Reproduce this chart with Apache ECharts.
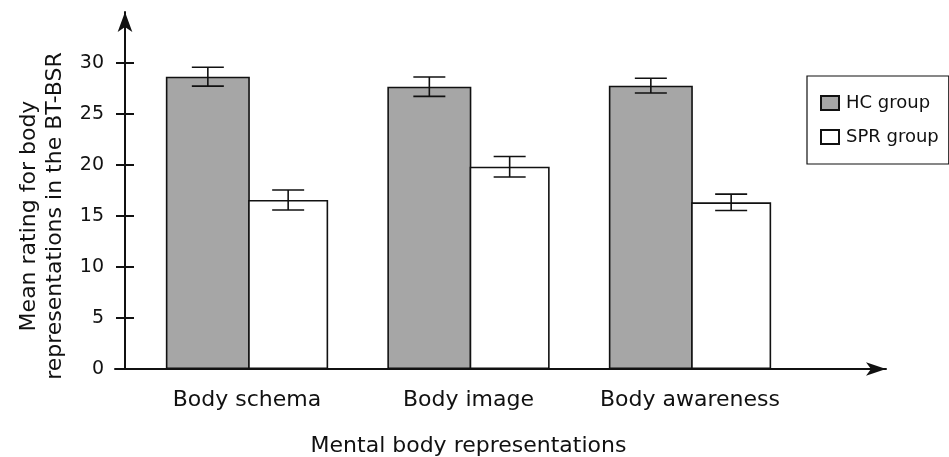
<!DOCTYPE html>
<html>
<head>
<meta charset="utf-8">
<script src="https://cdn.jsdelivr.net/npm/echarts@6/dist/echarts.min.js"></script>
<style>
html,body{margin:0;padding:0;background:#fff;}
#chart{width:949px;height:457px;}
</style>
</head>
<body>
<div id="chart"></div>
<script>
const categories = ['Body schema', 'Body image', 'Body awareness'];
const seriesNames = ['HC group', 'SPR group'];
const hcMeans = [28.66, 27.68, 27.78];
const hcErr = [0.93, 0.95, 0.72];
const sprMeans = [16.57, 19.83, 16.34];
const sprErr = [0.98, 1.0, 0.8];
const yTicks = [0, 5, 10, 15, 20, 25, 30];

const FONT = 'DejaVu Sans';
const HC_W = 84, SPR_W = 80;
const GAP_PCT = -2;
const TOTAL_W = HC_W + SPR_W + HC_W * GAP_PCT / 100;
const hcOffset = -TOTAL_W / 2 + HC_W / 2;
const sprOffset = -TOTAL_W / 2 + HC_W * (1 + GAP_PCT / 100) + SPR_W / 2;

function errData(means, errs) {
  return means.map((m, i) => [i, m - errs[i], m + errs[i]]);
}

function errRender(offset) {
  return function (params, api) {
    const i = api.value(0);
    const lo = api.coord([i, api.value(1)]);
    const hi = api.coord([i, api.value(2)]);
    const x = lo[0] + offset;
    const cap = 16;
    const style = { stroke: '#111', lineWidth: 1.6 };
    return {
      type: 'group',
      children: [
        { type: 'line', shape: { x1: x, y1: lo[1], x2: x, y2: hi[1] }, style },
        { type: 'line', shape: { x1: x - cap, y1: lo[1], x2: x + cap, y2: lo[1] }, style },
        { type: 'line', shape: { x1: x - cap, y1: hi[1], x2: x + cap, y2: hi[1] }, style }
      ]
    };
  };
}

const chart = echarts.init(document.getElementById('chart'), null, { renderer: 'canvas' });

chart.setOption({
  animation: false,
  backgroundColor: '#fff',
  grid: [
    { left: 136.25, width: 664.5, top: 63, bottom: 88, outerBoundsMode: 'none', containLabel: false },
    { left: 115, right: 63, top: 12, bottom: 88, outerBoundsMode: 'none', containLabel: false }
  ],
  legend: {
    orient: 'vertical',
    left: 807,
    top: 76,
    data: seriesNames,
    icon: 'rect',
    itemWidth: 18,
    itemHeight: 14,
    itemGap: 12,
    padding: [16, 10, 16, 13],
    borderColor: '#111',
    borderWidth: 1.2,
    borderRadius: 0,
    textStyle: { fontFamily: FONT, fontSize: 18, color: '#111', lineHeight: 22, padding: [0, 0, 0, 2] }
  },
  xAxis: [
    {
      type: 'category',
      gridIndex: 0,
      data: categories,
      axisLine: { show: false },
      axisTick: { show: false },
      axisLabel: { fontFamily: FONT, fontSize: 22, color: '#111', margin: 20, interval: 0 },
      name: 'Mental body representations',
      nameLocation: 'middle',
      nameGap: 66,
      nameTextStyle: { fontFamily: FONT, fontSize: 22, color: '#111' }
    },
    {
      type: 'value',
      gridIndex: 1,
      min: -10,
      max: 761,
      axisLine: { show: true, onZero: true, symbol: ['none', 'arrow'], symbolSize: [10, 20], lineStyle: { color: '#111', width: 2 } },
      axisTick: { show: false },
      axisLabel: { show: false },
      splitLine: { show: false }
    }
  ],
  yAxis: [
    {
      type: 'value',
      gridIndex: 0,
      min: 0,
      max: 30,
      interval: 5,
      offset: 11.25,
      axisLine: { show: false },
      axisTick: { show: true, inside: false, length: 9, lineStyle: { color: '#111', width: 2 } },
      axisLabel: { fontFamily: FONT, fontSize: 19, color: '#111', margin: 21, formatter: v => yTicks.includes(v) ? String(v) : '' },
      splitLine: { show: false },
      name: 'Mean rating for body\nrepresentations in the BT-BSR',
      nameLocation: 'middle',
      nameRotate: 90,
      nameGap: 57,
      nameTextStyle: { fontFamily: FONT, fontSize: 22, color: '#111', lineHeight: 26 }
    },
    {
      type: 'value',
      gridIndex: 0,
      position: 'left',
      min: 0,
      max: 30,
      interval: 5,
      offset: 11.25,
      axisLine: { show: false },
      axisTick: { show: true, inside: true, length: 9, lineStyle: { color: '#111', width: 2 } },
      axisLabel: { show: false },
      splitLine: { show: false }
    },
    {
      type: 'value',
      gridIndex: 1,
      min: 0,
      max: 1,
      axisLine: { show: true, onZero: true, symbol: ['none', 'arrow'], symbolSize: [11, 20], lineStyle: { color: '#111', width: 2 } },
      axisTick: { show: false },
      axisLabel: { show: false },
      splitLine: { show: false }
    }
  ],
  series: [
    {
      name: seriesNames[0],
      type: 'bar',
      xAxisIndex: 0,
      yAxisIndex: 0,
      data: hcMeans,
      barWidth: HC_W,
      barGap: GAP_PCT + '%',
      itemStyle: { color: '#a6a6a6', borderColor: '#111', borderWidth: 1.6 },
      z: 2
    },
    {
      name: seriesNames[1],
      type: 'bar',
      xAxisIndex: 0,
      yAxisIndex: 0,
      data: sprMeans,
      barWidth: SPR_W,
      barGap: GAP_PCT + '%',
      itemStyle: { color: '#ffffff', borderColor: '#111', borderWidth: 1.6 },
      z: 2
    },
    {
      type: 'custom',
      xAxisIndex: 0,
      yAxisIndex: 0,
      data: errData(hcMeans, hcErr),
      encode: { x: 0, y: [1, 2] },
      renderItem: errRender(hcOffset),
      z: 5,
      silent: true
    },
    {
      type: 'custom',
      xAxisIndex: 0,
      yAxisIndex: 0,
      data: errData(sprMeans, sprErr),
      encode: { x: 0, y: [1, 2] },
      renderItem: errRender(sprOffset),
      z: 5,
      silent: true
    }
  ]
});
</script>
</body>
</html>
